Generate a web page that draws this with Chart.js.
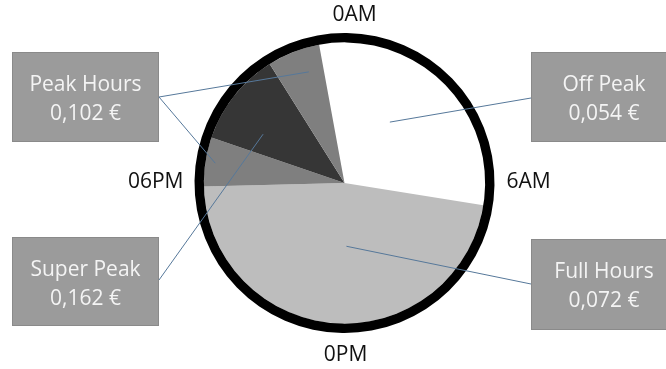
<!DOCTYPE html>
<html>
<head>
<meta charset="utf-8">
<script src="https://cdn.jsdelivr.net/npm/chart.js@4.4.1/dist/chart.umd.min.js"></script>
<style>
  html, body { margin: 0; padding: 0; background: #ffffff; }
  #wrap { width: 666px; height: 369px; position: relative; }
</style>
</head>
<body>
<div id="wrap"><canvas id="c" width="666" height="369"></canvas></div>
<script>
// ---- data (hours of the day per tariff band, clockwise from the top) ----
const categories = ["Off Peak", "Full Hours", "Peak Hours", "Super Peak", "Peak Hours"];
const hours      = [7.3, 11.3, 1.35, 2.6, 1.45];
const sliceColors = ["#ffffff", "#bdbdbd", "#7f7f7f", "#363636", "#7f7f7f"];
const startRotation = -10.4; // degrees, start of first slice from 12 o'clock
const clockLabels = ["0AM", "6AM", "0PM", "06PM"];
const calloutNames  = ["Peak Hours", "Off Peak", "Super Peak", "Full Hours"];
const calloutPrices = ["0,102 €", "0,054 €", "0,162 €", "0,072 €"];

// ---- layout of callouts (boxes and where leader lines touch the slices) ----
const boxes = [
  { x: 12,  y: 52,  w: 147, h: 90, lx: 159, ly: 97,  targets: [[4, 0.66, 0.83], [2, 0.5, 0.93]] },
  { x: 531, y: 52,  w: 146, h: 90, lx: 531, ly: 98,  targets: [[0, 0.43, 0.54]] },
  { x: 12,  y: 237, w: 147, h: 89, lx: 159, ly: 280, targets: [[3, 0.31, 0.675]] },
  { x: 531, y: 239, w: 146, h: 91, lx: 531, ly: 284, targets: [[1, 0.467, 0.45]] }
];

const FONT = '"Open Sans", "Liberation Sans", sans-serif';

const overlay = {
  id: 'overlay',
  afterDraw(chart) {
    const ctx = chart.ctx;
    const ringMeta = chart.getDatasetMeta(0);
    const meta = chart.getDatasetMeta(1);
    const ring = ringMeta.data[0];
    const cx = ring.x, cy = ring.y, R = ring.outerRadius;

    // clock labels
    ctx.save();
    ctx.fillStyle = '#111111';
    ctx.font = '21px ' + FONT;
    ctx.textBaseline = 'middle';
    ctx.textAlign = 'center';
    ctx.fillText(clockLabels[0], cx + 10, cy - R - 18);
    ctx.fillText(clockLabels[2], cx + 1, cy + R + 22);
    ctx.textAlign = 'left';
    ctx.fillText(clockLabels[1], cx + R + 12, cy - 1);
    ctx.textAlign = 'right';
    ctx.fillText(clockLabels[3], cx - R - 11, cy - 1);
    ctx.restore();

    // leader lines
    ctx.save();
    ctx.strokeStyle = '#56789a';
    ctx.lineWidth = 1;
    boxes.forEach(b => {
      b.targets.forEach(([idx, t, rf]) => {
        const arc = meta.data[idx];
        const a = arc.startAngle + (arc.endAngle - arc.startAngle) * t;
        const r = arc.outerRadius * rf;
        ctx.beginPath();
        ctx.moveTo(b.lx, b.ly);
        ctx.lineTo(arc.x + r * Math.cos(a), arc.y + r * Math.sin(a));
        ctx.stroke();
      });
    });
    ctx.restore();

    // callout boxes
    ctx.save();
    boxes.forEach((b, i) => {
      ctx.fillStyle = '#9b9b9b';
      ctx.fillRect(b.x, b.y, b.w, b.h);
      ctx.strokeStyle = '#8a8a8a';
      ctx.lineWidth = 1;
      ctx.strokeRect(b.x + 0.5, b.y + 0.5, b.w - 1, b.h - 1);
      ctx.fillStyle = '#f4f4f4';
      ctx.font = '21px ' + FONT;
      ctx.textAlign = 'center';
      ctx.textBaseline = 'middle';
      ctx.fillText(calloutNames[i], b.x + b.w / 2, b.y + 33);
      ctx.fillText(calloutPrices[i], b.x + b.w / 2, b.y + 62);
    });
    ctx.restore();
  }
};

new Chart(document.getElementById('c'), {
  type: 'pie',
  data: {
    labels: categories,
    datasets: [
      { data: [24], backgroundColor: ['#000000'], borderWidth: 0, weight: 1 },
      { data: hours, backgroundColor: sliceColors, borderWidth: 0, weight: 15 }
    ]
  },
  options: {
    responsive: false,
    animation: false,
    events: [],
    rotation: startRotation,
    layout: { padding: { left: 194, right: 171, top: 33, bottom: 36 } },
    plugins: {
      legend: { display: false },
      tooltip: { enabled: false },
      title: { display: false }
    }
  },
  plugins: [overlay]
});
</script>
</body>
</html>
